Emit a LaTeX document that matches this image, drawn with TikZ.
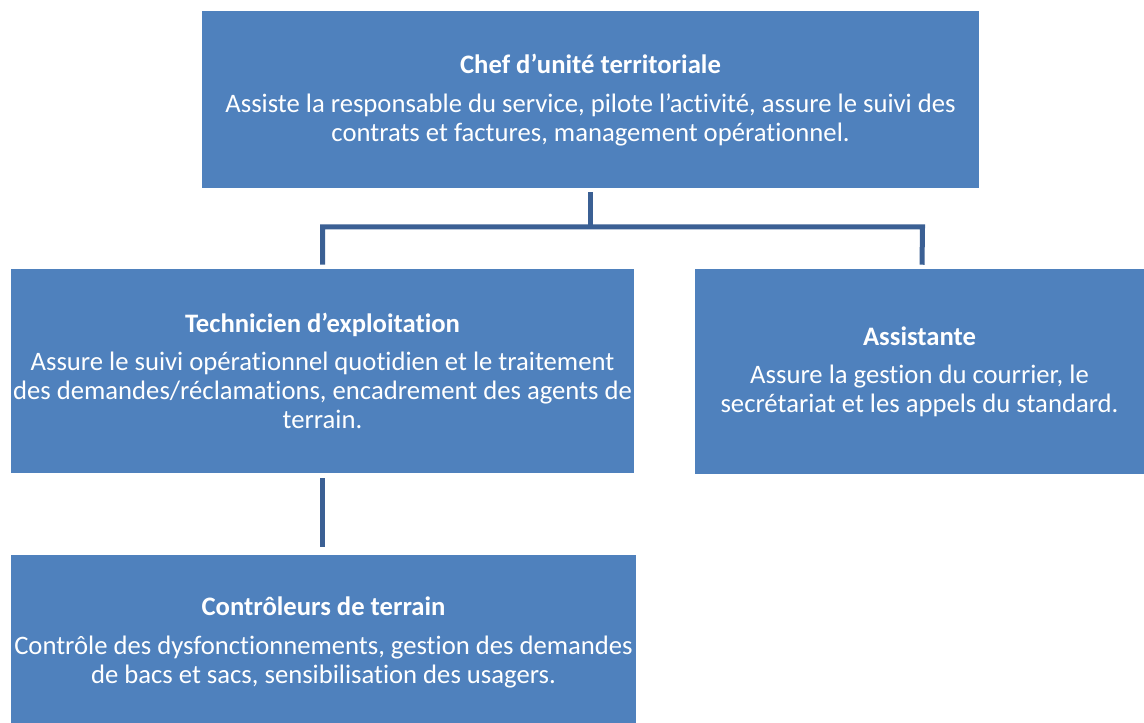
\documentclass[tikz,border=0pt]{standalone}
\usepackage{fontspec}
\setmainfont{Carlito}[Ligatures=NoCommon]
\usetikzlibrary{calc}
\definecolor{boxblue}{RGB}{79,129,189}
\definecolor{linkblue}{RGB}{59,96,148}
\tikzset{
  orgbox/.style={fill=boxblue, draw=none, text=white, align=center, inner sep=0pt,
    font=\fontsize{20pt}{21.75pt}\selectfont},
  conn/.style={draw=linkblue, line width=3.75pt, line join=miter, line cap=butt},
}
\newcommand{\ttl}[1]{\textbf{#1}\\[7pt]}
\begin{document}
\begin{tikzpicture}[x=0.75pt, y=-0.75pt]
\useasboundingbox (0,0) rectangle (1144,723);
\begin{scope}
\clip (0,0) rectangle (1144,723);
\node[orgbox, minimum width=777*0.75pt, minimum height=177*0.75pt] (top) at (590.5,100)
  {\ttl{Chef d’unité territoriale}Assiste la responsable du service, pilote l’activité, assure le suivi des\\contrats et factures, management opérationnel.};
\node[orgbox, minimum width=623*0.75pt, minimum height=203*0.75pt] (tech) at (322.5,371)
  {\ttl{Technicien d’exploitation}Assure le suivi opérationnel quotidien et le traitement\\des demandes/réclamations, encadrement des agents de\\terrain.};
\node[orgbox, minimum width=449*0.75pt, minimum height=204*0.75pt] (asst) at (919.5,371.5)
  {\ttl{Assistante}Assure la gestion du courrier, le\\secrétariat et les appels du standard.};
\node[orgbox, minimum width=625*0.75pt, minimum height=176*0.75pt] (ctrl) at (323.5,642.5)
  {\ttl{Contrôleurs de terrain}Contrôle des dysfonctionnements, gestion des demandes\\de bacs et sacs, sensibilisation des usagers.};
\end{scope}
\coordinate (hb) at (590.5,227);
\draw[conn] ($(top.south)+(0,3.5)$) -- ($(hb)+(0,2)$);
\draw[conn] ($(tech.north)+(0,-4.5)$) |- ($(hb)+(332,0)$) -- ($(asst.north)+(2.5,-4.5)$);
\draw[conn] ($(tech.south)+(0,5.5)$) -- ($(ctrl.north)+(-1,-7.5)$);
\end{tikzpicture}
\end{document}
